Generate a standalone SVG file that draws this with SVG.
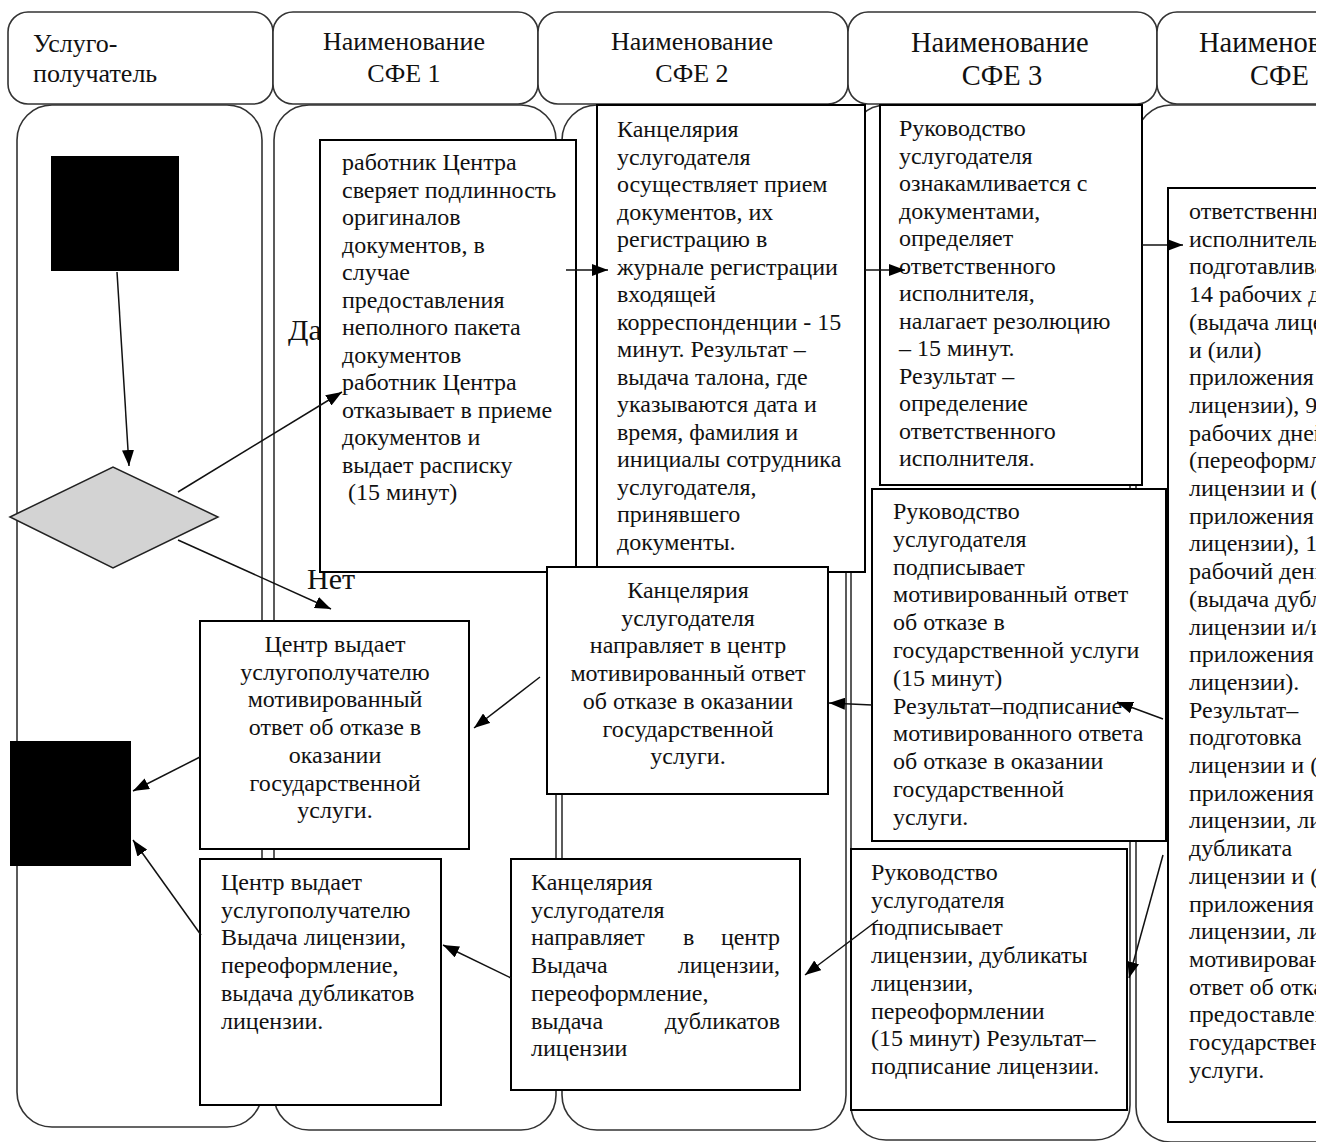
<svg xmlns="http://www.w3.org/2000/svg" width="1333" height="1142" viewBox="0 0 1333 1142">
<defs>
<style>
.lane{fill:#fff;stroke:#333;stroke-width:1.6}
.hdr{fill:#fff;stroke:#333;stroke-width:1.6}
.box{fill:#fff;stroke:#000;stroke-width:2}
.term{fill:#000;stroke:none}
.dec{fill:#d3d3d3;stroke:#222;stroke-width:1.5}
.t{font-family:"Liberation Serif","Times New Roman","DejaVu Serif",serif;font-size:24px;fill:#111}
.h{font-family:"Liberation Serif","Times New Roman","DejaVu Serif",serif;font-size:26px;fill:#111}
.h2{font-family:"Liberation Serif","Times New Roman","DejaVu Serif",serif;font-size:28.5px;fill:#111}
.lbl{font-family:"Liberation Serif","Times New Roman","DejaVu Serif",serif;font-size:30px;fill:#111}
.c{text-anchor:middle}
.conn{fill:none;stroke:#111;stroke-width:1.5;marker-end:url(#arr)}
</style>
<marker id="arr" viewBox="0 0 16 12" refX="16" refY="6" markerWidth="16" markerHeight="12" markerUnits="userSpaceOnUse" orient="auto">
<path d="M0,0 L16,6 L0,12 z" fill="#000"/>
</marker>
<clipPath id="clip"><rect x="0" y="0" width="1316" height="1142"/></clipPath>
</defs>
<rect x="0" y="0" width="1333" height="1142" fill="#fff"/>
<g clip-path="url(#clip)">
<g id="lanes">
<rect class="lane" x="17" y="105" width="245" height="1022" rx="35" ry="35"/>
<rect class="lane" x="274" y="105" width="282" height="1025" rx="35" ry="35"/>
<rect class="lane" x="562" y="105" width="284" height="1025" rx="35" ry="35"/>
<rect class="lane" x="851" y="105" width="279" height="1035" rx="35" ry="35"/>
<rect class="lane" x="1136" y="105" width="400" height="1037" rx="35" ry="35"/>
</g>
<g id="headers">
<rect class="hdr" x="8" y="12" width="265" height="92" rx="20" ry="20"/>
<rect class="hdr" x="273" y="12" width="265" height="92" rx="20" ry="20"/>
<rect class="hdr" x="538" y="12" width="310" height="92" rx="20" ry="20"/>
<rect class="hdr" x="848" y="12" width="309" height="92" rx="20" ry="20"/>
<rect class="hdr" x="1157" y="12" width="320" height="92" rx="20" ry="20"/>
<text class="h" x="33" y="52">Услуго-</text>
<text class="h" x="33" y="82">получатель</text>
<text class="h c" x="404" y="50">Наименование</text>
<text class="h c" x="404" y="82">СФЕ 1</text>
<text class="h c" x="692" y="50">Наименование</text>
<text class="h c" x="692" y="82">СФЕ 2</text>
<text class="h2" x="911" y="52">Наименование</text>
<text class="h2 c" x="1002" y="85">СФЕ 3</text>
<text class="h2" x="1199" y="52">Наименование</text>
<text class="h2" x="1250" y="85">СФЕ</text>
</g>
<g id="labels">
<text class="lbl" x="288" y="340">Да</text>
<text class="lbl" x="307" y="589">Нет</text>
</g>
<g id="start"><rect class="term" x="51" y="156" width="128" height="115"/></g>
<g id="decision"><polygon class="dec" points="10,517 113,467 218,517 113,568"/></g>
<g id="box1">
<rect class="box" x="320" y="140" width="256" height="432"/>
<text class="t" x="342" y="170"><tspan x="342" dy="0">работник Центра</tspan><tspan x="342" dy="27.5">сверяет подлинность</tspan><tspan x="342" dy="27.5">оригиналов</tspan><tspan x="342" dy="27.5">документов, в</tspan><tspan x="342" dy="27.5">случае</tspan><tspan x="342" dy="27.5">предоставления</tspan><tspan x="342" dy="27.5">неполного пакета</tspan><tspan x="342" dy="27.5">документов</tspan><tspan x="342" dy="27.5">работник Центра</tspan><tspan x="342" dy="27.5">отказывает в приеме</tspan><tspan x="342" dy="27.5">документов и</tspan><tspan x="342" dy="27.5">выдает расписку</tspan><tspan x="348" dy="27.5">(15 минут)</tspan></text>
</g>
<g id="box2">
<rect class="box" x="597" y="105" width="268" height="467"/>
<text class="t" x="617" y="137"><tspan x="617" dy="0">Канцелярия</tspan><tspan x="617" dy="27.5">услугодателя</tspan><tspan x="617" dy="27.5">осуществляет прием</tspan><tspan x="617" dy="27.5">документов, их</tspan><tspan x="617" dy="27.5">регистрацию в</tspan><tspan x="617" dy="27.5">журнале регистрации</tspan><tspan x="617" dy="27.5">входящей</tspan><tspan x="617" dy="27.5">корреспонденции - 15</tspan><tspan x="617" dy="27.5">минут. Результат –</tspan><tspan x="617" dy="27.5">выдача талона, где</tspan><tspan x="617" dy="27.5">указываются дата и</tspan><tspan x="617" dy="27.5">время, фамилия и</tspan><tspan x="617" dy="27.5">инициалы сотрудника</tspan><tspan x="617" dy="27.5">услугодателя,</tspan><tspan x="617" dy="27.5">принявшего</tspan><tspan x="617" dy="27.5">документы.</tspan></text>
</g>
<g id="box3">
<rect class="box" x="880" y="105" width="262" height="380"/>
<text class="t" x="899" y="136"><tspan x="899" dy="0">Руководство</tspan><tspan x="899" dy="27.5">услугодателя</tspan><tspan x="899" dy="27.5">ознакамливается с</tspan><tspan x="899" dy="27.5">документами,</tspan><tspan x="899" dy="27.5">определяет</tspan><tspan x="899" dy="27.5">ответственного</tspan><tspan x="899" dy="27.5">исполнителя,</tspan><tspan x="899" dy="27.5">налагает резолюцию</tspan><tspan x="899" dy="27.5">– 15 минут.</tspan><tspan x="899" dy="27.5">Результат –</tspan><tspan x="899" dy="27.5">определение</tspan><tspan x="899" dy="27.5">ответственного</tspan><tspan x="899" dy="27.5">исполнителя.</tspan></text>
</g>
<g id="box5">
<rect class="box" x="1168" y="188" width="300" height="934"/>
<text class="t" x="1189" y="219"><tspan x="1189" dy="0">ответственный</tspan><tspan x="1189" dy="27.7">исполнитель</tspan><tspan x="1189" dy="27.7">подготавливает</tspan><tspan x="1189" dy="27.7">14 рабочих дней</tspan><tspan x="1189" dy="27.7">(выдача лицензии</tspan><tspan x="1189" dy="27.7">и (или)</tspan><tspan x="1189" dy="27.7">приложения к</tspan><tspan x="1189" dy="27.7">лицензии), 9</tspan><tspan x="1189" dy="27.7">рабочих дней</tspan><tspan x="1189" dy="27.7">(переоформления</tspan><tspan x="1189" dy="27.7">лицензии и (или)</tspan><tspan x="1189" dy="27.7">приложения к</tspan><tspan x="1189" dy="27.7">лицензии), 1</tspan><tspan x="1189" dy="27.7">рабочий день</tspan><tspan x="1189" dy="27.7">(выдача дубликата</tspan><tspan x="1189" dy="27.7">лицензии и/или</tspan><tspan x="1189" dy="27.7">приложения к</tspan><tspan x="1189" dy="27.7">лицензии).</tspan><tspan x="1189" dy="27.7">Результат–</tspan><tspan x="1189" dy="27.7">подготовка</tspan><tspan x="1189" dy="27.7">лицензии и (или)</tspan><tspan x="1189" dy="27.7">приложения к</tspan><tspan x="1189" dy="27.7">лицензии, либо</tspan><tspan x="1189" dy="27.7">дубликата</tspan><tspan x="1189" dy="27.7">лицензии и (или)</tspan><tspan x="1189" dy="27.7">приложения к</tspan><tspan x="1189" dy="27.7">лицензии, либо</tspan><tspan x="1189" dy="27.7">мотивированный</tspan><tspan x="1189" dy="27.7">ответ об отказе в</tspan><tspan x="1189" dy="27.7">предоставлении</tspan><tspan x="1189" dy="27.7">государственной</tspan><tspan x="1189" dy="27.7">услуги.</tspan></text>
</g>
<g id="box4">
<rect class="box" x="872" y="489" width="294" height="352"/>
<text class="t" x="893" y="519"><tspan x="893" dy="0">Руководство</tspan><tspan x="893" dy="27.8">услугодателя</tspan><tspan x="893" dy="27.8">подписывает</tspan><tspan x="893" dy="27.8">мотивированный ответ</tspan><tspan x="893" dy="27.8">об отказе в</tspan><tspan x="893" dy="27.8">государственной услуги</tspan><tspan x="893" dy="27.8">(15 минут)</tspan><tspan x="893" dy="27.8">Результат–подписание</tspan><tspan x="893" dy="27.8">мотивированного ответа</tspan><tspan x="893" dy="27.8">об отказе в оказании</tspan><tspan x="893" dy="27.8">государственной</tspan><tspan x="893" dy="27.8">услуги.</tspan></text>
</g>
<g id="box6">
<rect class="box" x="547" y="567" width="281" height="227"/>
<text class="t c" x="688" y="598"><tspan x="688" dy="0">Канцелярия</tspan><tspan x="688" dy="27.7">услугодателя</tspan><tspan x="688" dy="27.7">направляет в центр</tspan><tspan x="688" dy="27.7">мотивированный ответ</tspan><tspan x="688" dy="27.7">об отказе в оказании</tspan><tspan x="688" dy="27.7">государственной</tspan><tspan x="688" dy="27.7">услуги.</tspan></text>
</g>
<g id="box7">
<rect class="box" x="200" y="621" width="269" height="228"/>
<text class="t c" x="335" y="652"><tspan x="335" dy="0">Центр выдает</tspan><tspan x="335" dy="27.7">услугополучателю</tspan><tspan x="335" dy="27.7">мотивированный</tspan><tspan x="335" dy="27.7">ответ об отказе в</tspan><tspan x="335" dy="27.7">оказании</tspan><tspan x="335" dy="27.7">государственной</tspan><tspan x="335" dy="27.7">услуги.</tspan></text>
</g>
<g id="end"><rect class="term" x="10" y="741" width="121" height="125"/></g>
<g id="box8">
<rect class="box" x="200" y="859" width="241" height="246"/>
<text class="t" x="221" y="890"><tspan x="221" dy="0">Центр выдает</tspan><tspan x="221" dy="27.7">услугополучателю</tspan><tspan x="221" dy="27.7">Выдача лицензии,</tspan><tspan x="221" dy="27.7">переоформление,</tspan><tspan x="221" dy="27.7">выдача дубликатов</tspan><tspan x="221" dy="27.7">лицензии.</tspan></text>
</g>
<g id="box9">
<rect class="box" x="511" y="859" width="289" height="231"/>
<text class="t" x="531" y="890">Канцелярия</text>
<text class="t" x="531" y="917.7">услугодателя</text>
<text class="t" x="531" y="945.4">направляет</text>
<text class="t" x="683" y="945.4">в</text>
<text class="t" x="780" y="945.4" text-anchor="end">центр</text>
<text class="t" x="531" y="973.1">Выдача</text>
<text class="t" x="780" y="973.1" text-anchor="end">лицензии,</text>
<text class="t" x="531" y="1000.8">переоформление,</text>
<text class="t" x="531" y="1028.5">выдача</text>
<text class="t" x="780" y="1028.5" text-anchor="end">дубликатов</text>
<text class="t" x="531" y="1056.2">лицензии</text>
</g>
<g id="box10">
<rect class="box" x="851" y="849" width="276" height="261"/>
<text class="t" x="871" y="880"><tspan x="871" dy="0">Руководство</tspan><tspan x="871" dy="27.7">услугодателя</tspan><tspan x="871" dy="27.7">подписывает</tspan><tspan x="871" dy="27.7">лицензии, дубликаты</tspan><tspan x="871" dy="27.7">лицензии,</tspan><tspan x="871" dy="27.7">переоформлении</tspan><tspan x="871" dy="27.7">(15 минут) Результат–</tspan><tspan x="871" dy="27.7">подписание лицензии.</tspan></text>
</g>
<g id="connectors">
<line class="conn" x1="117" y1="272" x2="129" y2="466"/>
<line class="conn" x1="178" y1="492" x2="342" y2="392"/>
<line class="conn" x1="178" y1="540" x2="331" y2="609"/>
<line class="conn" x1="566" y1="270" x2="608" y2="270"/>
<line class="conn" x1="865" y1="270" x2="905" y2="270"/>
<line class="conn" x1="1142" y1="245" x2="1183" y2="245"/>
<line class="conn" x1="1163" y1="719" x2="1117" y2="702"/>
<line class="conn" x1="872" y1="705" x2="829" y2="703"/>
<line class="conn" x1="540" y1="677" x2="474" y2="728"/>
<line class="conn" x1="200" y1="757" x2="133" y2="791"/>
<line class="conn" x1="201" y1="935" x2="133" y2="840"/>
<line class="conn" x1="511" y1="978" x2="443" y2="945"/>
<line class="conn" x1="878" y1="920" x2="805" y2="975"/>
<line class="conn" x1="1163" y1="855" x2="1129" y2="978"/>
</g>
</g>
</svg>
